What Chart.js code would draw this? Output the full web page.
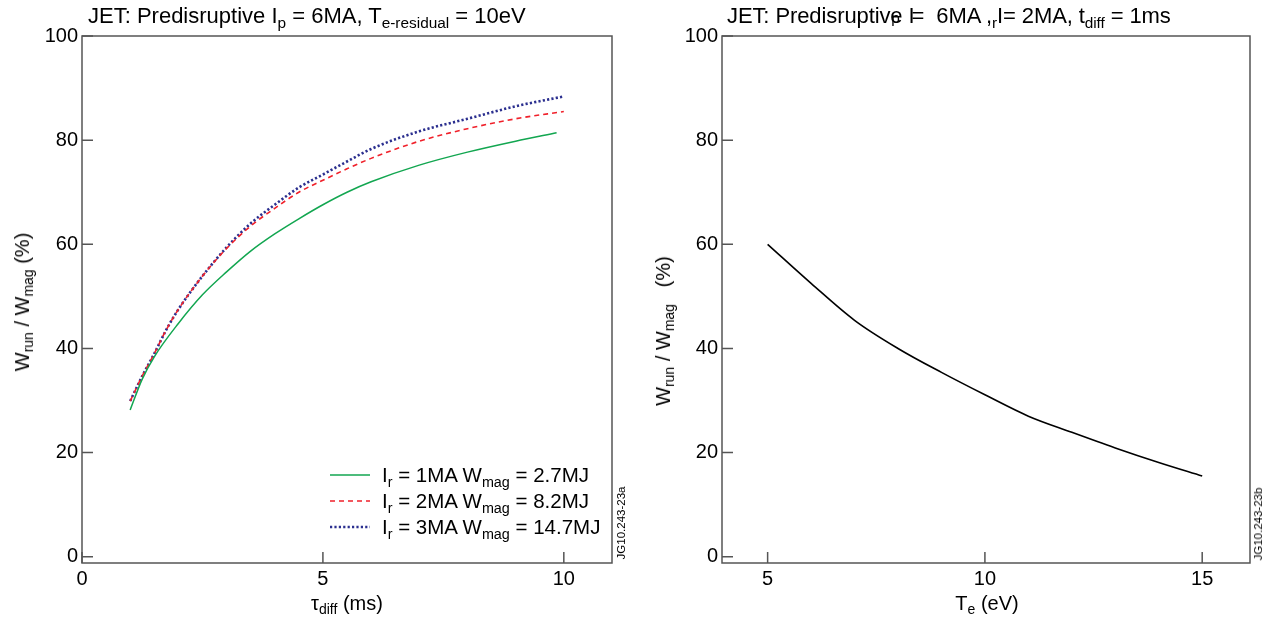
<!DOCTYPE html>
<html><head><meta charset="utf-8">
<script src="https://cdn.jsdelivr.net/npm/chart.js@4.4.1/dist/chart.umd.min.js"></script>
<style>
html,body{margin:0;padding:0;background:#fff;}
body{width:1271px;height:619px;position:relative;overflow:hidden;font-family:"Liberation Sans",Arial,Helvetica,sans-serif;color:#000;}
canvas{position:absolute;top:0;}
.t{position:absolute;white-space:pre;font-size:20px;line-height:1;}
.c{transform:translate(-50%,-50%);}
.rot{transform:translate(-50%,-50%) rotate(-90deg);}
sub{font-size:0.7em;vertical-align:-0.32em;line-height:0;}
.jg{position:absolute;font-size:11.5px;white-space:pre;transform:translate(-50%,-50%) rotate(-90deg);}
#legend{position:absolute;left:330px;top:462px;font-size:20.5px;}
#legend .row{height:26px;display:flex;align-items:center;white-space:pre;}
#legend svg{margin-right:12px;}
</style></head><body>
<canvas id="c1" width="640" height="619" style="left:0"></canvas>
<canvas id="c2" width="631" height="619" style="left:640px"></canvas>

<div class="t" style="left:88px;top:5px;font-size:22px">JET: Predisruptive I<sub>p</sub> = 6MA, T<sub>e-residual</sub> = 10eV</div>
<div class="t" style="left:727px;top:5px;font-size:22px;letter-spacing:-0.1px">JET: Predisruptiv<span style="position:relative">e<sub style="position:absolute;left:1px;top:15px;vertical-align:0">p</sub></span> I<span style="margin-left:-3px">=</span>  6MA ,<sub>r</sub>I= 2MA, t<sub>diff</sub> = 1ms</div>

<div class="t c" style="left:347px;top:603px">τ<sub>diff</sub> (ms)</div>
<div class="t c" style="left:987px;top:603px">T<sub>e</sub> (eV)</div>
<div class="t rot" style="left:22px;top:302px">W<sub>run</sub> / W<sub>mag</sub> (%)</div>
<div class="t rot" style="left:663px;top:331px">W<sub>run</sub> / W<sub>mag</sub>   (%)</div>

<div class="jg" style="left:621px;top:523px">JG10.243-23a</div>
<div class="jg" style="left:1258px;top:524px">JG10.243-23b</div>

<div id="legend"></div>

<script>
// ---- data ----
const tauA = [1,1.25,1.5,1.75,2,2.5,3,3.5,4,4.5,5,5.5,6,7,8,9,10];
const tau1MA = [1,1.25,1.5,2,2.5,3,3.5,4,4.5,5,5.5,6,7,8,9,9.85];
const w1MA = [28.2,34.1,38.4,44.8,50.3,54.7,58.7,62.0,64.9,67.6,70.0,72.0,75.2,77.7,79.8,81.4];
const w2MA = [29.9,34.7,39.0,43.6,47.5,53.9,59.2,63.5,66.9,70.0,72.3,74.5,76.5,79.8,82.2,84.1,85.5];
const w3MA = [29.9,34.7,39.0,43.6,47.5,53.9,59.4,64.0,67.6,70.9,73.4,75.9,78.3,81.7,84.1,86.5,88.4];
const teVals = [5,6,7,8,9,10,11,12,13,14,15];
const wTe = [60.0,52.5,45.4,40.0,35.4,31.1,27.0,23.9,20.9,18.1,15.5];
const legendCurrent = ['1MA','2MA','3MA'];
const legendWmag = ['2.7MJ','8.2MJ','14.7MJ'];
const yTicks = [0,20,40,60,80,100];
const xTicksLeft = [0,5,10];
const xTicksRight = [5,10,15];

const pts = (xs, ys) => xs.map((x,i)=>({x, y: ys[i]}));
const FONT = {family:'"Liberation Sans", Arial, sans-serif', size:20};

const frame = {
  id:'frame',
  afterDraw(chart){
    const {ctx, chartArea:a, scales:{x,y}} = chart;
    ctx.save();
    ctx.strokeStyle='#555'; ctx.lineWidth=1.5;
    ctx.beginPath();
    x.ticks.forEach(t=>{const px=x.getPixelForValue(t.value); ctx.moveTo(px,a.bottom); ctx.lineTo(px,a.bottom-11);});
    y.ticks.forEach(t=>{const py=y.getPixelForValue(t.value); ctx.moveTo(a.left,py); ctx.lineTo(a.left+11,py);});
    ctx.stroke();
    ctx.strokeRect(a.left,a.top,a.right-a.left,a.bottom-a.top);
    ctx.restore();
  }
};

function makeOptions(xmin,xmax,xt,padRight){
  return {
    responsive:false, animation:false, devicePixelRatio:1,
    layout:{padding:{left:0,top:36,right:padRight,bottom:0}},
    plugins:{legend:{display:false}, tooltip:{enabled:false}},
    elements:{point:{radius:0}, line:{tension:0.25, cubicInterpolationMode:'monotone'}},
    scales:{
      x:{type:'linear', min:xmin, max:xmax,
         afterBuildTicks:s=>{s.ticks = xt.map(v=>({value:v}));},
         afterFit:s=>{s.height=56;},
         grid:{display:false, drawTicks:false}, border:{display:false},
         ticks:{font:FONT, color:'#000', padding:4, maxRotation:0, autoSkip:false}},
      y:{type:'linear', min:-1.2, max:100,
         afterBuildTicks:s=>{s.ticks = yTicks.map(v=>({value:v}));},
         afterFit:s=>{s.width=82;},
         grid:{display:false, drawTicks:false}, border:{display:false},
         ticks:{font:FONT, color:'#000', padding:4, autoSkip:false}}
    }
  };
}

const chartL = new Chart(document.getElementById('c1'), {
  type:'line',
  data:{datasets:[
    {label:'Ir = 1MA Wmag = 2.7MJ', data:pts(tau1MA,w1MA), borderColor:'#12a650', borderWidth:1.5, fill:false},
    {label:'Ir = 2MA Wmag = 8.2MJ', data:pts(tauA,w2MA), borderColor:'#f0202a', borderWidth:1.6, borderDash:[5,4], fill:false},
    {label:'Ir = 3MA Wmag = 14.7MJ', data:pts(tauA,w3MA), borderColor:'#2b2f8f', borderWidth:2.6, borderDash:[2.2,2.2], fill:false}
  ]},
  options:makeOptions(0,11,xTicksLeft,28),
  plugins:[frame]
});

new Chart(document.getElementById('c2'), {
  type:'line',
  data:{datasets:[
    {label:'Wrun/Wmag', data:pts(teVals,wTe), borderColor:'#000', borderWidth:1.6, fill:false}
  ]},
  options:makeOptions(3.95,16.1,xTicksRight,21),
  plugins:[frame]
});

// HTML legend built from the left chart's datasets
const lg = document.getElementById('legend');
chartL.data.datasets.forEach((ds,i)=>{
  const row = document.createElement('div'); row.className='row';
  const dash = ds.borderDash ? ds.borderDash.join(',') : '';
  row.innerHTML = `<svg width="40" height="6"><line x1="0" y1="3" x2="40" y2="3" stroke="${ds.borderColor}" stroke-width="${ds.borderWidth}" ${dash?`stroke-dasharray="${dash}"`:''}/></svg>`+
    `<span>I<sub>r</sub> = ${legendCurrent[i]} W<sub>mag</sub> = ${legendWmag[i]}</span>`;
  lg.appendChild(row);
});
</script>
</body></html>
